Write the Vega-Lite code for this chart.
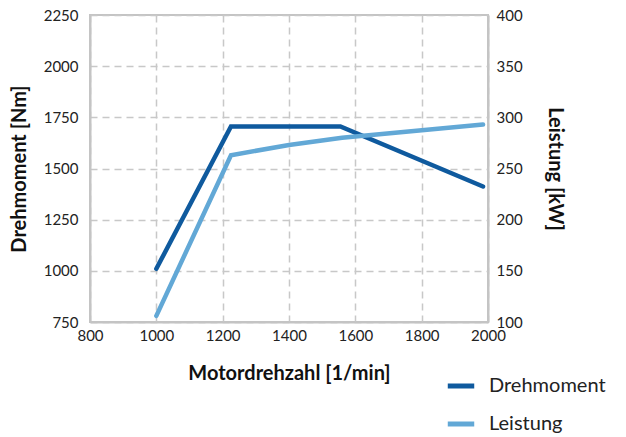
{
  "$schema": "https://vega.github.io/schema/vega-lite/v6.json",
  "width": 398,
  "height": 307,
  "autosize": "none",
  "padding": {"left": 90, "top": 15, "right": 138, "bottom": 115},
  "background": "white",
  "config": {
    "font": "Lato",
    "view": {"stroke": "#c4c4c4", "strokeWidth": 2},
    "axis": {
      "labelFont": "Lato",
      "labelFontSize": 15,
      "labelColor": "#222",
      "titleFont": "Lato",
      "titleFontSize": 20,
      "titleFontWeight": "bold",
      "titleColor": "#111",
      "ticks": false,
      "format": "d",
      "domainColor": "#c4c4c4",
      "domainWidth": 2,
      "gridColor": "#c8c8c8",
      "gridDash": [7, 5],
      "gridWidth": 1.5
    }
  },
  "datasets": {
    "drehmoment": [
      {"rpm": 1000, "value": 1010, "series": "Drehmoment"},
      {"rpm": 1225, "value": 1705, "series": "Drehmoment"},
      {"rpm": 1555, "value": 1705, "series": "Drehmoment"},
      {"rpm": 1985, "value": 1412, "series": "Drehmoment"}
    ],
    "leistung": [
      {"rpm": 1000, "value": 106, "series": "Leistung"},
      {"rpm": 1225, "value": 263, "series": "Leistung"},
      {"rpm": 1400, "value": 273, "series": "Leistung"},
      {"rpm": 1560, "value": 280, "series": "Leistung"},
      {"rpm": 1985, "value": 293, "series": "Leistung"}
    ]
  },
  "layer": [
    {
      "data": {"name": "drehmoment"},
      "mark": {"type": "line", "strokeWidth": 4.5, "strokeCap": "round", "strokeJoin": "miter"},
      "encoding": {
        "x": {
          "field": "rpm", "type": "quantitative",
          "scale": {"domain": [800, 2000], "nice": false, "zero": false},
          "axis": {"values": [800, 1000, 1200, 1400, 1600, 1800, 2000], "title": "Motordrehzahl [1/min]", "titlePadding": 20, "labelPadding": 6, "labelFlush": false}
        },
        "y": {
          "field": "value", "type": "quantitative",
          "scale": {"domain": [750, 2250], "nice": false, "zero": false},
          "axis": {"values": [750, 1000, 1250, 1500, 1750, 2000, 2250], "title": "Drehmoment [Nm]", "titlePadding": 14, "labelPadding": 12, "labelFlush": false}
        },
        "color": {
          "field": "series", "type": "nominal",
          "scale": {"domain": ["Drehmoment", "Leistung"], "range": ["#0f5a9e", "#62a8d6"]},
          "legend": {
            "title": null,
            "orient": "none",
            "legendX": 355,
            "legendY": 355,
            "symbolType": "stroke",
            "symbolStrokeWidth": 5,
            "symbolSize": 700,
            "labelFont": "Lato",
            "labelFontSize": 20,
            "labelColor": "#222",
            "rowPadding": 12,
            "labelOffset": 12
          }
        }
      }
    },
    {
      "data": {"name": "leistung"},
      "mark": {"type": "line", "strokeWidth": 4.5, "strokeCap": "round"},
      "encoding": {
        "x": {"field": "rpm", "type": "quantitative"},
        "y": {
          "field": "value", "type": "quantitative",
          "scale": {"domain": [100, 400], "nice": false, "zero": false},
          "axis": {"orient": "right", "values": [100, 150, 200, 250, 300, 350, 400], "title": "Leistung [kW]", "titleAngle": 90, "titlePadding": 22, "labelPadding": 8, "grid": false, "labelFlush": false}
        },
        "color": {"field": "series", "type": "nominal"}
      }
    }
  ],
  "resolve": {"scale": {"y": "independent"}}
}
